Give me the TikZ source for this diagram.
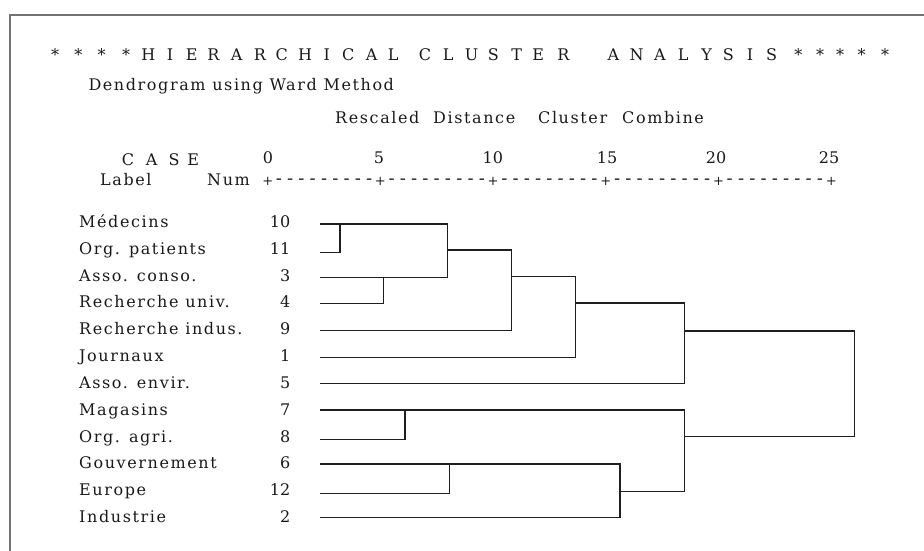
\documentclass[tikz,border=0pt]{standalone}
\usepackage{fontspec}
\newfontfamily\lmls{DejaVu Serif}[LetterSpace=10]
\newfontfamily\lmpl{DejaVu Serif}
\tikzset{
  txt/.style={font=\lmls\fontsize{16}{19}\selectfont, text=black!90, inner sep=0pt},
  chr/.style={font=\lmpl\fontsize{16}{19}\selectfont, text=black!90, inner sep=0pt, anchor=base},
  axplus/.style={font=\lmpl\fontsize{13}{15}\selectfont, text=black!90, inner sep=0pt, anchor=center},
  axdash/.style={font=\lmpl\fontsize{18}{20}\selectfont, text=black!90, inner sep=0pt, anchor=center},
  tree/.style={draw=black!88, line width=1.2pt},
  frame/.style={draw=black!55, line width=1.4pt}
}
\begin{document}
\begin{tikzpicture}[x=1pt,y=-1pt]
\useasboundingbox (0,0) rectangle (924,551);
% frame
\coordinate (fb) at (10,551);
\coordinate (fc) at (10,15);
\coordinate (fr) at (924,15);
\draw[frame] (fb) -- (fc) -- (fr);

% title
\foreach \x/\c [count=\k] in {55/*,78.3/*,101.7/*,126/*,148.3/H,170/I,191.7/E,213.3/R,236.7/A,260/R,281.7/C,305/H,326.7/I,348.3/C,371.7/A,393.3/L,425/C,448.3/L,471.7/U,493.3/S,516.7/T,538.3/E,563.3/R,613.3/A,636.7/N,660/A,683.3/L,706.7/Y,728.3/S,750/I,771.7/S,798.3/*,820/*,840/*,861.7/*,885/*}
  \node[chr] (ti\k) at (\x,60) {\c};

\node[txt, anchor=base west] (sub) at (88.3,90) {Dendrogram using Ward Method};
\node[txt, anchor=base west] (w1) at (335,124) {Rescaled};
\node[txt, anchor=base west] (w2) at (433,124) {Distance};
\node[txt, anchor=base west] (w3) at (538,124) {Cluster};
\node[txt, anchor=base west] (w4) at (622,124) {Combine};

% CASE
\foreach \x/\c [count=\k] in {128/C,151.7/A,174/S,193.3/E}
  \node[chr] (cs\k) at (\x,165) {\c};
\node[txt, anchor=base west] (lab) at (100,185.5) {Label};
\node[txt, anchor=base west] (num) at (207,185.5) {Num};

% axis numbers
\foreach \x/\c [count=\k] in {268/0,379/5,492.8/10,607/15,716/20,829/25}
  \node[chr] (an\k) at (\x,163) {\c};
% axis line
\foreach \k in {0,...,5}
  \node[axplus] (ap\k) at (267.7+112.7*\k,181.7) {+};
\foreach \k in {0,...,4}
  \foreach \j in {1,...,9}
    \node[axdash] (ad\k-\j) at (267.7+112.7*\k+11.27*\j,181.7) {-};

% labels and case numbers
\foreach \lab/\nm [count=\i from 0] in {Médecins/10,Org. patients/11,Asso. conso./3,Recherche univ./4,Recherche indus./9,Journaux/1,Asso. envir./5,Magasins/7,Org. agri./8,Gouvernement/6,Europe/12,Industrie/2}
{
  \node[txt, anchor=base west] (lb\i) at (79,227.3+26.85*\i) {\lab};
  \node[chr, anchor=base east] (nb\i) at (290.5,227.3+26.85*\i) {\nm};
}

% leaf line starts
\coordinate (a10) at (320,224);
\coordinate (a11) at (320,252.3);
\coordinate (a3) at (320,277.7);
\coordinate (a4) at (320,303.7);
\coordinate (a9) at (320,330.7);
\coordinate (a1) at (320,357.7);
\coordinate (a5) at (320,383.3);
\coordinate (a7) at (320,410);
\coordinate (a8) at (320,439.3);
\coordinate (a6) at (320,464);
\coordinate (a12) at (320,493.7);
\coordinate (a2) at (320,517.7);

% merge points
\coordinate (mA) at (340,224);
\coordinate (mB) at (383.3,277.7);
\coordinate (cB) at (447.7,277.7);
\coordinate (oC) at (447.7,250);
\coordinate (dB) at (511.7,330.7);
\coordinate (oD) at (511.7,276.3);
\coordinate (eB) at (575.3,357.7);
\coordinate (oE) at (575.3,303);
\coordinate (fB) at (684.7,383.3);
\coordinate (oF) at (684.7,331);
\coordinate (mG) at (405,410);
\coordinate (mH) at (449.3,464);
\coordinate (iB) at (620,517.7);
\coordinate (oI) at (620,491.7);
\coordinate (jB) at (684.7,491.7);
\coordinate (oJ) at (684.7,436.7);
\coordinate (kB) at (854.7,436.7);

\draw[tree] (a11) -| (mA);
\draw[tree] (a4) -| (mB);
\draw[tree] (a10) -| (cB) -- (a3);
\draw[tree] (oC) -| (dB) -- (a9);
\draw[tree] (oD) -| (eB) -- (a1);
\draw[tree] (oE) -| (fB) -- (a5);
\draw[tree] (a8) -| (mG);
\draw[tree] (a12) -| (mH);
\draw[tree] (a6) -| (iB) -- (a2);
\draw[tree] (a7) -| (jB) -- (oI);
\draw[tree] (oF) -| (kB) -- (oJ);
\end{tikzpicture}
\end{document}
